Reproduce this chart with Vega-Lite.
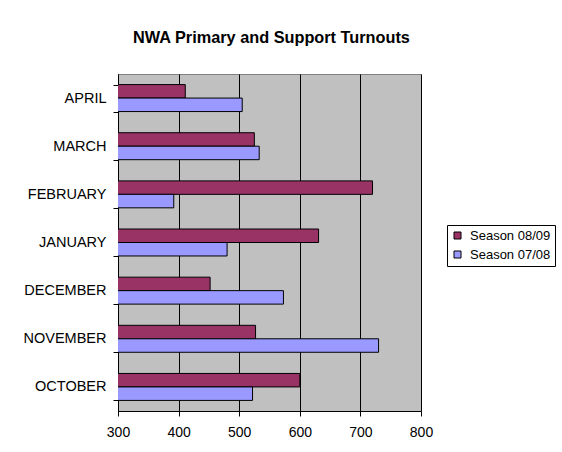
{
  "$schema": "https://vega.github.io/schema/vega-lite/v6.json",
  "width": 303,
  "height": 337,
  "autosize": {"type": "none"},
  "padding": {"left": 118, "top": 74, "right": 141, "bottom": 41},
  "background": "white",
  "title": {
    "text": "NWA Primary and Support Turnouts",
    "font": "Liberation Sans",
    "fontSize": 16.3,
    "fontWeight": "bold",
    "color": "black",
    "anchor": "middle",
    "offset": 20,
    "dx": 2
  },
  "data": {
    "values": [
      {"month": "APRIL", "season": "Season 08/09", "value": 411},
      {"month": "APRIL", "season": "Season 07/08", "value": 505},
      {"month": "MARCH", "season": "Season 08/09", "value": 525},
      {"month": "MARCH", "season": "Season 07/08", "value": 533},
      {"month": "FEBRUARY", "season": "Season 08/09", "value": 720},
      {"month": "FEBRUARY", "season": "Season 07/08", "value": 392},
      {"month": "JANUARY", "season": "Season 08/09", "value": 631},
      {"month": "JANUARY", "season": "Season 07/08", "value": 480},
      {"month": "DECEMBER", "season": "Season 08/09", "value": 452},
      {"month": "DECEMBER", "season": "Season 07/08", "value": 573},
      {"month": "NOVEMBER", "season": "Season 08/09", "value": 527},
      {"month": "NOVEMBER", "season": "Season 07/08", "value": 730},
      {"month": "OCTOBER", "season": "Season 08/09", "value": 600},
      {"month": "OCTOBER", "season": "Season 07/08", "value": 522}
    ]
  },
  "mark": {"type": "bar", "stroke": "black", "strokeWidth": 1, "clip": true},
  "encoding": {
    "y": {
      "field": "month",
      "type": "nominal",
      "sort": ["APRIL", "MARCH", "FEBRUARY", "JANUARY", "DECEMBER", "NOVEMBER", "OCTOBER"],
      "scale": {"paddingInner": 0.44, "paddingOuter": 0.22},
      "axis": {
        "title": null,
        "tickBand": "extent",
        "grid": false,
        "domainColor": "black",
        "tickColor": "black",
        "tickSize": 5,
        "labelPadding": 7,
        "labelFont": "Liberation Sans",
        "labelFontSize": 14.5,
        "labelColor": "black"
      }
    },
    "yOffset": {
      "field": "season",
      "type": "nominal",
      "sort": ["Season 08/09", "Season 07/08"],
      "scale": {"paddingInner": 0, "paddingOuter": 0}
    },
    "x": {
      "field": "value",
      "type": "quantitative",
      "scale": {"domain": [300, 800], "zero": false, "nice": false},
      "axis": {
        "title": null,
        "values": [300, 400, 500, 600, 700, 800],
        "grid": true,
        "gridColor": "black",
        "gridWidth": 1,
        "domainColor": "black",
        "tickColor": "black",
        "tickSize": 5,
        "labelPadding": 9,
        "labelFlush": false,
        "labelFont": "Liberation Sans",
        "labelFontSize": 14,
        "labelColor": "black"
      }
    },
    "color": {
      "field": "season",
      "type": "nominal",
      "scale": {"domain": ["Season 08/09", "Season 07/08"], "range": ["#993366", "#9999FF"]},
      "legend": {
        "title": null,
        "orient": "none",
        "legendX": 329,
        "legendY": 151,
        "strokeColor": "black",
        "fillColor": "white",
        "padding": 4,
        "symbolType": "square",
        "symbolSize": 49,
        "symbolStrokeColor": "black",
        "symbolStrokeWidth": 1,
        "rowPadding": 5,
        "labelFont": "Liberation Sans",
        "labelFontSize": 13,
        "labelColor": "black",
        "labelOffset": 6
      }
    }
  },
  "config": {
    "view": {"fill": "#C0C0C0", "stroke": "#808080", "strokeWidth": 1}
  }
}
